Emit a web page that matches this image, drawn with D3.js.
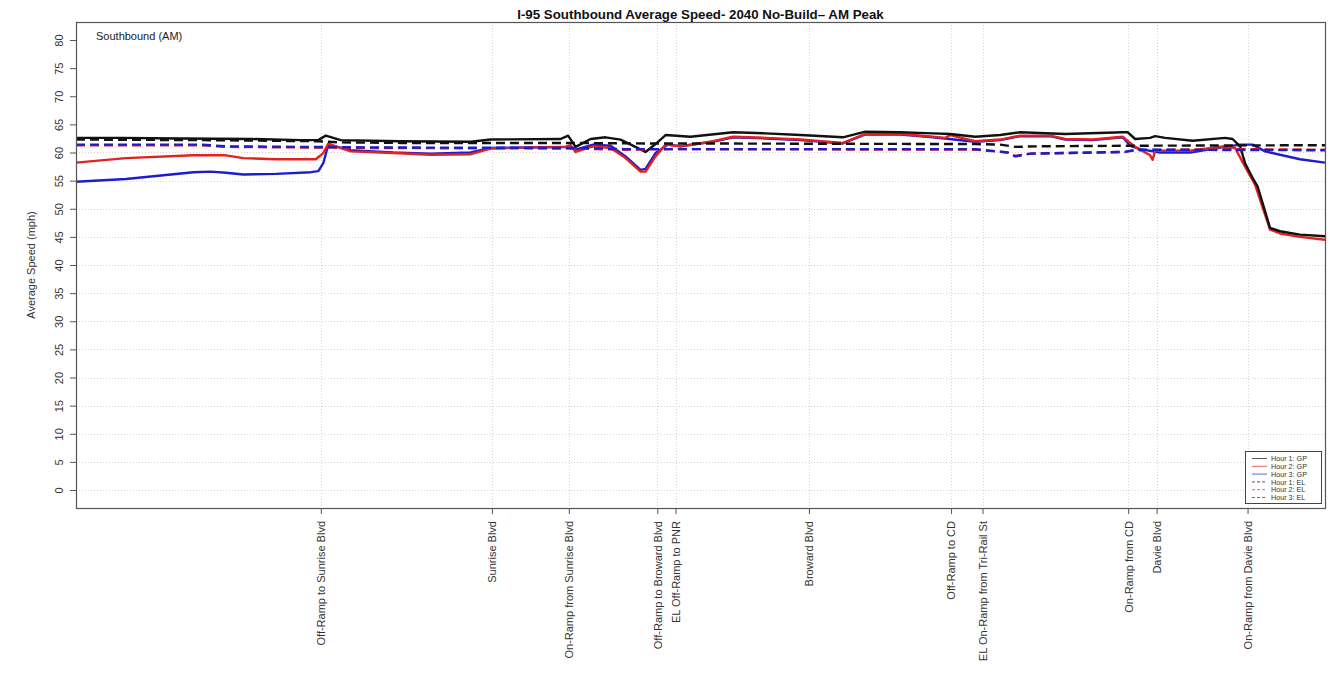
<!DOCTYPE html>
<html>
<head>
<meta charset="utf-8">
<script src="https://cdn.jsdelivr.net/npm/d3@7"></script>
<style>
  html, body { margin: 0; padding: 0; background: #fff; }
  svg { display: block; font-family: "Liberation Sans", Arial, sans-serif; }
</style>
</head>
<body>
<svg id="chart" width="1332" height="679"></svg>
<script>
// Southbound I-95 corridor: distance along the segment (miles) and average speed (mph)

// Landmarks along the corridor (tick positions in miles)
const landmarkNames = [
  "Off-Ramp to Sunrise Blvd", "Sunrise Blvd", "On-Ramp from Sunrise Blvd",
  "Off-Ramp to Broward Blvd", "EL Off-Ramp to PNR", "Broward Blvd",
  "Off-Ramp to CD", "EL On-Ramp from Tri-Rail St", "On-Ramp from CD",
  "Davie Blvd", "On-Ramp from Davie Blvd"
];
const landmarkMiles = [0.98, 1.665, 1.973, 2.327, 2.40, 2.934, 3.503, 3.629, 4.212, 4.326, 4.69];

// Speed axis ticks and the reference grid levels
const speedTicks = [0, 5, 10, 15, 20, 25, 30, 35, 40, 45, 50, 55, 60, 65, 70, 75, 80];
const gridLevels = [0, 5, 10, 15, 20, 25, 30, 35, 40, 45, 50, 55, 60];

// General-purpose lanes, [mile, mph]
const gpHour1 = [
  [0.00,62.6],[0.18,62.6],[0.42,62.5],[0.70,62.4],[0.90,62.2],[0.97,62.2],[1.00,63.0],[1.06,62.2],
  [1.30,62.0],[1.58,61.9],[1.66,62.3],[1.94,62.4],[1.97,63.0],[2.00,61.0],[2.06,62.4],[2.12,62.7],
  [2.18,62.3],[2.28,60.1],[2.32,61.5],[2.36,63.1],[2.46,62.8],[2.63,63.6],[2.76,63.4],[2.90,63.1],
  [3.07,62.7],[3.16,63.7],[3.30,63.6],[3.43,63.4],[3.50,63.3],[3.60,62.8],[3.70,63.1],[3.78,63.6],
  [3.96,63.3],[4.19,63.6],[4.21,63.6],[4.24,62.4],[4.30,62.6],[4.32,62.9],[4.36,62.6],[4.47,62.1],
  [4.60,62.6],[4.63,62.4],[4.66,61.1],[4.68,58.1],[4.71,55.5],[4.73,54.0],[4.78,46.6],[4.82,46.0],
  [4.90,45.4],[5.00,45.1]
];
const gpHour2 = [
  [0.00,58.2],[0.20,59.0],[0.47,59.5],[0.60,59.5],[0.67,59.0],[0.80,58.8],[0.96,58.8],[0.99,59.9],
  [1.01,61.6],[1.04,61.1],[1.10,60.2],[1.27,59.9],[1.42,59.6],[1.58,59.7],[1.66,60.7],[1.96,61.0],
  [1.98,61.3],[2.00,60.1],[2.07,61.1],[2.14,60.8],[2.20,59.0],[2.26,56.6],[2.28,56.6],[2.32,59.3],
  [2.36,61.4],[2.42,61.1],[2.55,62.0],[2.63,62.8],[2.76,62.6],[2.90,62.3],[3.07,61.7],[3.16,63.3],
  [3.30,63.3],[3.43,62.8],[3.48,62.6],[3.50,63.1],[3.60,62.0],[3.70,62.3],[3.78,63.0],[3.90,63.0],
  [3.96,62.4],[4.07,62.3],[4.19,62.8],[4.22,61.7],[4.24,61.0],[4.30,59.5],[4.31,58.7],[4.32,60.3],
  [4.46,60.3],[4.60,61.1],[4.64,60.8],[4.68,57.5],[4.72,54.3],[4.78,46.3],[4.82,45.6],[4.90,45.0],
  [5.00,44.5]
];
const gpHour3 = [
  [0.00,54.8],[0.20,55.3],[0.34,55.9],[0.47,56.5],[0.54,56.6],[0.60,56.4],[0.67,56.1],[0.80,56.2],
  [0.94,56.5],[0.97,56.7],[0.99,58.1],[1.01,61.4],[1.10,60.4],[1.27,60.0],[1.42,59.8],[1.58,60.0],
  [1.66,60.8],[1.96,61.0],[2.00,60.5],[2.07,61.4],[2.14,61.2],[2.20,59.3],[2.26,56.9],[2.28,57.1],
  [2.32,59.9],[2.37,61.4],[2.42,61.1],[2.55,61.9],[2.63,62.7],[2.76,62.5],[2.90,62.2],[3.07,61.6],
  [3.16,63.2],[3.30,63.2],[3.43,62.7],[3.60,61.9],[3.70,62.2],[3.78,62.9],[3.90,62.9],[3.96,62.3],
  [4.07,62.2],[4.19,62.7],[4.22,61.2],[4.26,60.6],[4.34,60.0],[4.46,60.0],[4.60,61.0],[4.66,61.4],
  [4.71,61.4],[4.76,60.2],[4.90,58.8],[5.00,58.2]
];

// Express lanes, [mile, mph]
const elHour1 = [
  [0.00,62.3],[0.50,62.2],[0.97,62.0],[1.05,61.8],[1.30,61.7],[2.00,61.7],[2.30,61.6],[2.50,61.6],
  [3.60,61.5],[3.70,61.4],[3.76,61.0],[3.85,61.1],[4.20,61.2],[5.00,61.3]
];
const elHour2 = [
  [0.00,61.3],[0.50,61.3],[0.60,61.0],[0.90,60.9],[1.20,60.8],[2.00,60.7],[2.20,60.5],[2.40,60.6],
  [3.60,60.5],[3.73,60.0],[3.76,59.4],[3.82,59.8],[4.20,60.1],[4.24,60.4],[4.60,60.6],[5.00,60.5]
];
const elHour3 = [
  [0.00,61.4],[0.50,61.4],[0.60,61.1],[0.90,61.0],[1.20,60.9],[2.00,60.8],[2.20,60.6],[2.40,60.6],
  [3.60,60.6],[3.73,60.0],[3.76,59.3],[3.82,59.8],[4.20,60.1],[4.24,60.5],[5.00,60.4]
];

const legendLabels = ["Hour 1: GP", "Hour 2: GP", "Hour 3: GP", "Hour 1: EL", "Hour 2: EL", "Hour 3: EL"];

const hourColors = ["#111111", "#e3211e", "#1d1dd0"];

const svg = d3.select("#chart");
const plot = { left: 76, right: 1325, top: 22, bottom: 508 };

const x = d3.scaleLinear().domain([0, 5]).range([plot.left, plot.right]);
const y = d3.scaleLinear().domain([-3.2, 83.2]).range([plot.bottom, plot.top]);

// Clip for the data lines
svg.append("defs").append("clipPath").attr("id", "plot-clip")
  .append("rect")
  .attr("x", plot.left).attr("y", plot.top)
  .attr("width", plot.right - plot.left).attr("height", plot.bottom - plot.top);

// Dotted grid
const grid = svg.append("g").attr("stroke", "#d4d4d4").attr("stroke-width", 1).attr("stroke-dasharray", "1,2");
grid.selectAll("line.h").data(gridLevels).join("line")
  .attr("class", "h")
  .attr("x1", plot.left).attr("x2", plot.right)
  .attr("y1", d => Math.round(y(d)) + 0.5).attr("y2", d => Math.round(y(d)) + 0.5);
grid.selectAll("line.v").data(landmarkMiles).join("line")
  .attr("class", "v")
  .attr("y1", plot.top).attr("y2", plot.bottom)
  .attr("x1", d => Math.round(x(d)) + 0.5).attr("x2", d => Math.round(x(d)) + 0.5);

// Speed lines
const line = d3.line().x(d => x(d[0])).y(d => y(d[1])).curve(d3.curveLinear);
const lines = svg.append("g").attr("clip-path", "url(#plot-clip)").attr("fill", "none")
  .attr("stroke-linejoin", "round");

const dashedSeries = [
  { data: elHour2, color: hourColors[1] },
  { data: elHour3, color: hourColors[2] },
  { data: elHour1, color: hourColors[0] }
];
const solidSeries = [
  { data: gpHour3, color: hourColors[2] },
  { data: gpHour2, color: hourColors[1] },
  { data: gpHour1, color: hourColors[0] }
];

solidSeries.forEach(s => {
  lines.append("path").attr("d", line(s.data))
    .attr("stroke", s.color).attr("stroke-width", 2.4);
});
dashedSeries.forEach(s => {
  lines.append("path").attr("d", line(s.data))
    .attr("stroke", s.color).attr("stroke-width", 2.4)
    .attr("stroke-dasharray", "9,5");
});

// Frame
svg.append("rect")
  .attr("x", plot.left + 0.5).attr("y", plot.top + 0.5)
  .attr("width", plot.right - plot.left).attr("height", plot.bottom - plot.top)
  .attr("fill", "none").attr("stroke", "#555").attr("stroke-width", 1.2);

// Y axis
const yAxis = svg.append("g")
  .attr("transform", `translate(${plot.left},0)`)
  .call(d3.axisLeft(y).tickValues(speedTicks).tickSize(6).tickFormat(d3.format("d")));
yAxis.select(".domain").remove();
yAxis.selectAll(".tick line").attr("stroke", "#555");
yAxis.selectAll(".tick text")
  .attr("x", 0).attr("dy", 0)
  .attr("text-anchor", "middle")
  .attr("transform", "translate(-13,0) rotate(-90)")
  .attr("fill", "#333").attr("font-size", 11)
  .attr("font-family", "Liberation Sans, Arial, sans-serif");

// X axis with landmark labels
const xAxis = svg.append("g")
  .attr("transform", `translate(0,${plot.bottom})`)
  .call(d3.axisBottom(x).tickValues(landmarkMiles).tickSize(6)
    .tickFormat((d, i) => landmarkNames[i]));
xAxis.select(".domain").remove();
xAxis.selectAll(".tick line").attr("stroke", "#555");
xAxis.selectAll(".tick text")
  .attr("y", 0).attr("x", -13).attr("dy", "0.35em")
  .attr("text-anchor", "end")
  .attr("transform", "rotate(-90)")
  .attr("fill", "#333").attr("font-size", 11)
  .attr("font-family", "Liberation Sans, Arial, sans-serif");

// Axis title
svg.append("text")
  .attr("transform", `translate(35,${(plot.top + plot.bottom) / 2}) rotate(-90)`)
  .attr("text-anchor", "middle")
  .attr("font-size", 11).attr("fill", "#333")
  .text("Average Speed (mph)");

// Title
svg.append("text")
  .attr("x", (plot.left + plot.right) / 2).attr("y", 19)
  .attr("text-anchor", "middle")
  .attr("font-size", 13.3).attr("font-weight", "bold").attr("fill", "#111")
  .text("I-95 Southbound Average Speed- 2040 No-Build– AM Peak");

// Panel label
svg.append("text")
  .attr("x", 96).attr("y", 40)
  .attr("font-size", 11).attr("fill", "#222")
  .text("Southbound (AM)");

// Legend
const lg = svg.append("g").attr("transform", "translate(1245,451)");
lg.append("rect").attr("x", 0.5).attr("y", 0.5).attr("width", 76).attr("height", 52)
  .attr("fill", "#fff").attr("stroke", "#444").attr("stroke-width", 1);
legendLabels.forEach((lab, i) => {
  const yy = 7.5 + i * 7.8;
  lg.append("line")
    .attr("x1", 7).attr("x2", 22).attr("y1", yy).attr("y2", yy)
    .attr("stroke", hourColors[i % 3]).attr("stroke-width", 1).attr("stroke-opacity", 0.7)
    .attr("stroke-dasharray", i >= 3 ? "3,2" : null);
  lg.append("text")
    .attr("x", 26).attr("y", yy + 2.6)
    .attr("font-size", 7.2).attr("fill", "#333")
    .text(lab);
});
</script>
</body>
</html>
